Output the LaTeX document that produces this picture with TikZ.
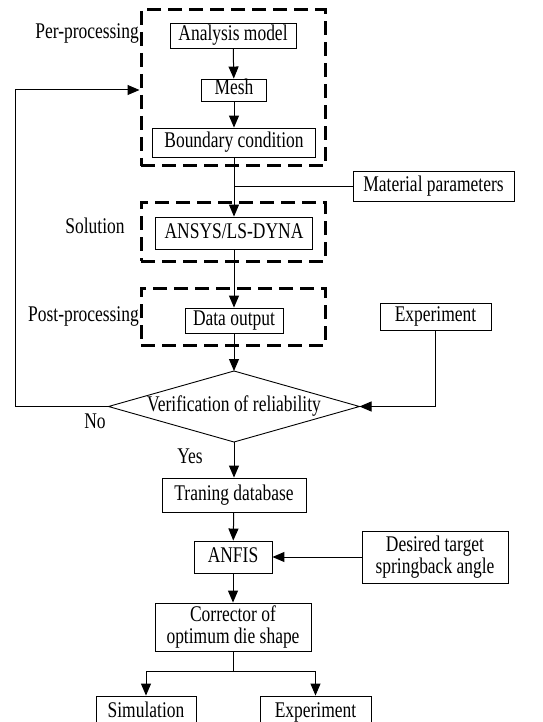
\documentclass[tikz,border=0pt]{standalone}
\usepackage{fontspec}
\setmainfont{Liberation Serif}[FakeStretch=0.78]
\usetikzlibrary{arrows.meta}
\begin{document}
\begin{tikzpicture}[x=1pt,y=-1pt,
  font=\fontsize{22.4}{21.5}\selectfont,
  box/.style={draw,line width=0.9pt,inner sep=0pt,align=center},
  sbox/.style={box,text height=14.5pt,text depth=4.5pt},
  dbox/.style={draw,line width=3pt,dash pattern=on 14pt off 7pt,inner sep=0pt},
  arr/.style={line width=1pt,-{Triangle[length=12pt,width=10pt]}},
  ln/.style={line width=1pt},
  lbl/.style={inner sep=0pt,text height=14.5pt,text depth=4.5pt}]
\useasboundingbox (0,0) rectangle (542,722);
\clip (0,0) rectangle (542,722);
% dashed groups
\node[dbox,minimum width=184pt,minimum height=156pt] (pre) at (233,88) {};
\node[dbox,minimum width=184pt,minimum height=59pt] (sol) at (233,231.5) {};
\node[dbox,minimum width=184pt,minimum height=57pt] (post) at (233,316.5) {};
% boxes
\node[sbox,minimum width=126pt,minimum height=25pt] (am) at (233,35.5) {Analysis model};
\node[sbox,minimum width=65pt,minimum height=22pt] (mesh) at (234,90) {Mesh};
\node[sbox,minimum width=163pt,minimum height=29pt] (bc) at (234,142.5) {Boundary condition};
\node[sbox,minimum width=161pt,minimum height=30pt] (mat) at (433.5,186) {Material parameters};
\node[sbox,minimum width=157pt,minimum height=32pt] (ansys) at (234,233) {ANSYS/LS-DYNA};
\node[sbox,minimum width=98pt,minimum height=25pt] (data) at (234,320.5) {Data output};
\node[sbox,minimum width=111pt,minimum height=27pt] (exp1) at (435.5,316.5) {Experiment};
% decision diamond
\node[lbl] (dia) at (234,406.5) {Verification of reliability};
\coordinate (diaN) at (234,371);
\coordinate (diaS) at (234,442);
\coordinate (diaW) at (108.5,406.5);
\coordinate (diaE) at (359.5,406.5);
\draw[line width=0.9pt] (diaN) -- (diaE) -- (diaS) -- (diaW) -- cycle;
\node[sbox,minimum width=144pt,minimum height=34pt] (train) at (234,495) {Traning database};
\node[sbox,minimum width=78pt,minimum height=32pt] (anfis) at (233,557) {ANFIS};
\node[box,minimum width=146pt,minimum height=52pt] (des) at (435,557) {Desired target\\springback angle};
\node[box,minimum width=156pt,minimum height=48pt] (corr) at (233,627) {Corrector of\\optimum die shape};
\node[sbox,minimum width=100pt,minimum height=32pt] (sim) at (146,712) {Simulation};
\node[sbox,minimum width=111pt,minimum height=32pt] (exp2) at (315.5,712) {Experiment};
% labels
\node[lbl,anchor=east] (lpre) at (139,34) {Per-processing};
\node[lbl] (lsol) at (95,228) {Solution};
\node[lbl,anchor=east] (lpost) at (139,316) {Post-processing};
\node[lbl] (lno) at (95,423) {No};
\node[lbl] (lyes) at (190,458) {Yes};
% connectors
\draw[arr] (am) -- (mesh);
\draw[arr] (mesh) -- (bc);
\draw[arr] (bc.south) -- (ansys.north);
\draw[ln] (mat.west) -- (bc.south |- mat.west);
\draw[arr] (ansys.south) -- (data.north);
\draw[arr] (data.south) -- (diaN);
\draw[arr] (exp1.south) |- (diaE);
\coordinate (fb) at (15,0);
\draw[arr] (diaW) -- (fb |- diaW) -- (fb |- mesh.center) -- (pre.west |- mesh.center);
\draw[arr] (diaS) -- (train.north);
\draw[arr] (train) -- (anfis);
\draw[arr] (des.west) -- (anfis.east);
\draw[arr] (anfis) -- (corr);
\coordinate (split) at (233,671);
\draw[ln] (corr.south) -- (split);
\draw[arr] (split) -| (sim.north);
\draw[arr] (split) -| (exp2.north);
\end{tikzpicture}
\end{document}
